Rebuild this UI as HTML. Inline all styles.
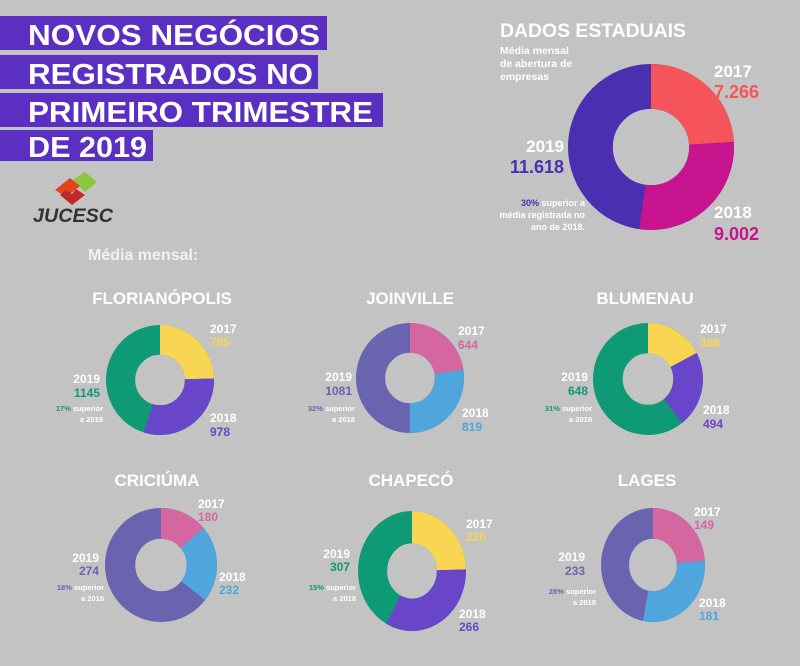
<!DOCTYPE html>
<html><head><meta charset="utf-8"><style>
body{margin:0;background:#c3c3c3;}
svg{display:block;font-family:"Liberation Sans",sans-serif;font-weight:bold;}
circle{fill:none;}
</style></head><body>
<svg width="800" height="666" viewBox="0 0 800 666" xmlns="http://www.w3.org/2000/svg">
<rect width="800" height="666" fill="#c3c3c3"/>
<rect x="0" y="16" width="327" height="34" fill="#5a2fc2"/>
<rect x="0" y="55" width="318" height="34" fill="#5a2fc2"/>
<rect x="0" y="93" width="383" height="34" fill="#5a2fc2"/>
<rect x="0" y="130" width="153" height="31" fill="#5a2fc2"/>
<g fill="#fff" font-size="29">
<text x="28" y="45" textLength="292" lengthAdjust="spacingAndGlyphs">NOVOS NEGÓCIOS</text>
<text x="28" y="84" textLength="285" lengthAdjust="spacingAndGlyphs">REGISTRADOS NO</text>
<text x="28" y="122" textLength="345" lengthAdjust="spacingAndGlyphs">PRIMEIRO TRIMESTRE</text>
<text x="28" y="157" textLength="119" lengthAdjust="spacingAndGlyphs">DE 2019</text>
</g>
<polygon points="73,180 85,172 97,182 85,192" fill="#8cc63f"/>
<polygon points="55,190 70,178 80,186 66,197" fill="#e2431f"/>
<polygon points="60,195 72,205 85,195 76,189 72,194 66,190" fill="#c1272d"/>
<text x="33" y="222" font-size="19" font-style="italic" fill="#333" textLength="80" lengthAdjust="spacingAndGlyphs">JUCESC</text>
<text x="88" y="260" font-size="16" fill="#f2f2f2">Média mensal:</text>
<text x="500" y="37" font-size="19" fill="#fff" textLength="186" lengthAdjust="spacingAndGlyphs">DADOS ESTADUAIS</text>
<g font-size="10.5" fill="#fff"><text x="500" y="54">Média mensal</text><text x="500" y="67">de abertura de</text><text x="500" y="80">empresas</text></g>

<g stroke-width="0.54">
<g transform="translate(651,147) scale(83,83) rotate(-90)">
<circle r="0.73" stroke="#4a2fb0"/>
<circle r="0.73" pathLength="360" stroke="#f5555a" stroke-dasharray="96 400"/>
<circle r="0.73" pathLength="360" stroke="#c8148e" stroke-dasharray="0 96 113 400"/>
</g>
<g transform="translate(160,380) scale(54,55) rotate(-90)">
<circle r="0.73" stroke="#0e9a74"/>
<circle r="0.73" pathLength="360" stroke="#f8d654" stroke-dasharray="98 400"/>
<circle r="0.73" pathLength="360" stroke="#6845c9" stroke-dasharray="0 98 121 400"/>
</g>
<g transform="translate(410,378) scale(54,55) rotate(-90)">
<circle r="0.73" stroke="#6a63b0"/>
<circle r="0.73" pathLength="360" stroke="#d4679f" stroke-dasharray="90 400"/>
<circle r="0.73" pathLength="360" stroke="#4ea6dd" stroke-dasharray="0 90 110 400"/>
</g>
<g transform="translate(648,379) scale(55,56) rotate(-90)">
<circle r="0.73" stroke="#0e9a74"/>
<circle r="0.73" pathLength="360" stroke="#f8d654" stroke-dasharray="69 400"/>
<circle r="0.73" pathLength="360" stroke="#6845c9" stroke-dasharray="0 69 88 400"/>
</g>
<g transform="translate(161,565) scale(56,57) rotate(-90)">
<circle r="0.73" stroke="#6a63b0"/>
<circle r="0.73" pathLength="360" stroke="#d4679f" stroke-dasharray="55 400"/>
<circle r="0.73" pathLength="360" stroke="#4ea6dd" stroke-dasharray="0 55 87 400"/>
</g>
<g transform="translate(412,571) scale(54,60) rotate(-90)">
<circle r="0.73" stroke="#0e9a74"/>
<circle r="0.73" pathLength="360" stroke="#f8d654" stroke-dasharray="98 400"/>
<circle r="0.73" pathLength="360" stroke="#6845c9" stroke-dasharray="0 98 133 400"/>
</g>
<g transform="translate(653,565) scale(52,57) rotate(-90)">
<circle r="0.73" stroke="#6a63b0"/>
<circle r="0.73" pathLength="360" stroke="#d4679f" stroke-dasharray="95 400"/>
<circle r="0.73" pathLength="360" stroke="#4ea6dd" stroke-dasharray="0 95 117 400"/>
</g>
</g>

<text x="714" y="77" font-size="17" fill="#fff">2017</text>
<text x="714" y="98" font-size="18" fill="#f5555a">7.266</text>
<text x="714" y="218" font-size="17" fill="#fff">2018</text>
<text x="714" y="240" font-size="18" fill="#c8148e">9.002</text>
<text x="564" y="152" font-size="17" fill="#fff" text-anchor="end">2019</text>
<text x="564" y="173" font-size="18" fill="#4a2fb0" text-anchor="end">11.618</text>
<g font-size="9" fill="#fff" text-anchor="end"><text x="585" y="206"><tspan fill="#4a2fb0">30%</tspan> superior a</text><text x="585" y="218">média registrada no</text><text x="585" y="230">ano de 2018.</text></g>
<g font-size="17" fill="#fff" text-anchor="middle">
<text x="162" y="304">FLORIANÓPOLIS</text><text x="410" y="304">JOINVILLE</text><text x="645" y="304">BLUMENAU</text>
<text x="157" y="486">CRICIÚMA</text><text x="411" y="486">CHAPECÓ</text><text x="647" y="486">LAGES</text>
</g>
<g font-size="12" fill="#fff">
<text x="210" y="333">2017</text><text x="210" y="346" fill="#f8d654">785</text>
<text x="210" y="422">2018</text><text x="210" y="436" fill="#6845c9">978</text>
<text x="100" y="383" text-anchor="end">2019</text><text x="100" y="397" text-anchor="end" fill="#0e9a74">1145</text>
<text x="458" y="335">2017</text><text x="458" y="349" fill="#d4679f">644</text>
<text x="462" y="417">2018</text><text x="462" y="431" fill="#4ea6dd">819</text>
<text x="352" y="381" text-anchor="end">2019</text><text x="352" y="395" text-anchor="end" fill="#6a63b0">1081</text>
<text x="700" y="333">2017</text><text x="700" y="347" fill="#f8d654">388</text>
<text x="703" y="414">2018</text><text x="703" y="428" fill="#6845c9">494</text>
<text x="588" y="381" text-anchor="end">2019</text><text x="588" y="395" text-anchor="end" fill="#0e9a74">648</text>
<text x="198" y="508">2017</text><text x="198" y="521" fill="#d4679f">180</text>
<text x="219" y="581">2018</text><text x="219" y="594" fill="#4ea6dd">232</text>
<text x="99" y="562" text-anchor="end">2019</text><text x="99" y="575" text-anchor="end" fill="#6a63b0">274</text>
<text x="466" y="528">2017</text><text x="466" y="541" fill="#f8d654">220</text>
<text x="459" y="618">2018</text><text x="459" y="631" fill="#6845c9">266</text>
<text x="350" y="558" text-anchor="end">2019</text><text x="350" y="571" text-anchor="end" fill="#0e9a74">307</text>
<text x="694" y="516">2017</text><text x="694" y="529" fill="#d4679f">149</text>
<text x="699" y="607">2018</text><text x="699" y="620" fill="#4ea6dd">181</text>
<text x="585" y="561" text-anchor="end">2019</text><text x="585" y="575" text-anchor="end" fill="#6a63b0">233</text>
</g>
<g font-size="7.5" fill="#fff" text-anchor="end">
<text x="103" y="411"><tspan fill="#0e9a74">17%</tspan> superior</text><text x="103" y="422">a 2018</text>
<text x="355" y="411"><tspan fill="#6a63b0">32%</tspan> superior</text><text x="355" y="422">a 2018</text>
<text x="592" y="411"><tspan fill="#0e9a74">31%</tspan> superior</text><text x="592" y="422">a 2018</text>
<text x="104" y="590"><tspan fill="#6a63b0">18%</tspan> superior</text><text x="104" y="601">a 2018</text>
<text x="356" y="590"><tspan fill="#0e9a74">15%</tspan> superior</text><text x="356" y="601">a 2018</text>
<text x="596" y="594"><tspan fill="#6a63b0">28%</tspan> superior</text><text x="596" y="605">a 2018</text>
</g>
</svg>
</body></html>
